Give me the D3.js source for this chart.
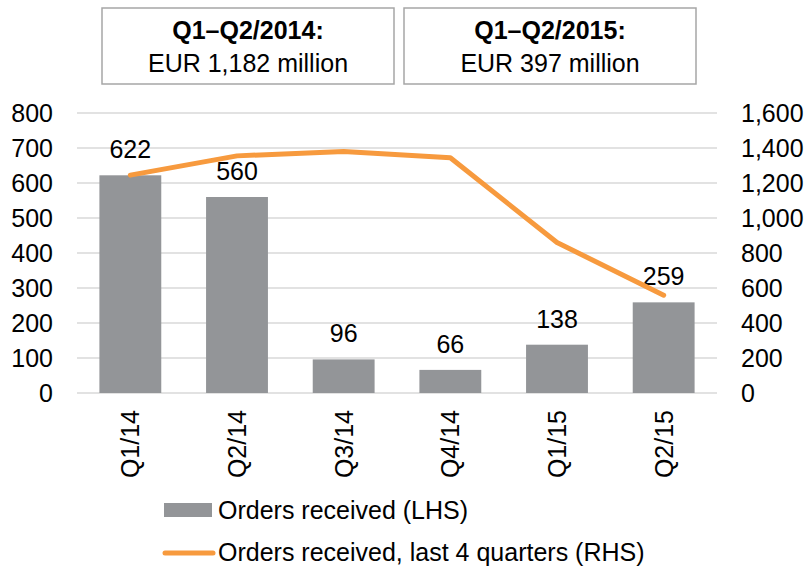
<!DOCTYPE html>
<html>
<head>
<meta charset="utf-8">
<script src="https://cdn.jsdelivr.net/npm/d3@7"></script>
<style>
  body { margin: 0; background: #fff; }
  text { font-family: Arial, "Liberation Sans", sans-serif; fill: #000; }
</style>
</head>
<body>
<div id="chart"></div>
<script>
// data
const quarters = ['Q1/14', 'Q2/14', 'Q3/14', 'Q4/14', 'Q1/15', 'Q2/15'];
const orders = [622, 560, 96, 66, 138, 259];
const last4Quarters = [1245, 1355, 1380, 1344, 860, 559];
const leftTicks = [0, 100, 200, 300, 400, 500, 600, 700, 800];
const rightTicks = [0, 200, 400, 600, 800, 1000, 1200, 1400, 1600];
const summaryTitles = ['Q1\u2013Q2/2014:', 'Q1\u2013Q2/2015:'];
const summaryValues = ['EUR 1,182 million', 'EUR 397 million'];
const legendLabels = ['Orders received (LHS)', 'Orders received, last 4 quarters (RHS)'];

const width = 809, height = 569;
const plot = { left: 77, right: 717, top: 113, bottom: 393 };
const barColor = '#939598', lineColor = '#f79a3e';

const svg = d3.select('#chart').append('svg')
    .attr('width', width)
    .attr('height', height);

const x = d3.scaleBand().domain(quarters).range([plot.left, plot.right]).paddingInner(0.42).paddingOuter(0.21);
const yL = d3.scaleLinear().domain([0, 800]).range([plot.bottom, plot.top]);
const yR = d3.scaleLinear().domain([0, 1600]).range([plot.bottom, plot.top]);

// summary boxes
const boxes = svg.append('g').selectAll('g').data(summaryTitles).join('g')
    .attr('transform', (d, i) => `translate(${i === 0 ? 102 : 404},8)`);
boxes.append('rect')
    .attr('width', 292).attr('height', 76)
    .attr('fill', '#fff').attr('stroke', '#a6a6a6').attr('stroke-width', 1.5);
boxes.append('text')
    .attr('x', 146).attr('y', 31)
    .attr('text-anchor', 'middle').attr('font-size', 25).attr('font-weight', 'bold')
    .text(d => d);
boxes.append('text')
    .attr('x', 146).attr('y', 64)
    .attr('text-anchor', 'middle').attr('font-size', 25)
    .text((d, i) => summaryValues[i]);

// gridlines
svg.append('g').selectAll('line').data(leftTicks).join('line')
    .attr('x1', plot.left).attr('x2', plot.right)
    .attr('y1', d => yL(d)).attr('y2', d => yL(d))
    .attr('stroke', '#d9d9d9').attr('stroke-width', 1.5);

// left axis
const leftAxis = svg.append('g')
    .attr('transform', `translate(${plot.left},0)`)
    .call(d3.axisLeft(yL).tickValues(leftTicks).tickSize(0).tickPadding(24).tickFormat(d3.format(',')));
leftAxis.select('.domain').remove();
leftAxis.selectAll('text').attr('font-size', 25).attr('font-family', null).attr('fill', '#000');

// right axis
const rightAxis = svg.append('g')
    .attr('transform', `translate(${plot.right},0)`)
    .call(d3.axisRight(yR).tickValues(rightTicks).tickSize(0).tickPadding(24).tickFormat(d3.format(',')));
rightAxis.select('.domain').remove();
rightAxis.selectAll('text').attr('font-size', 25).attr('font-family', null).attr('fill', '#000');

// bars
svg.append('g').selectAll('rect').data(orders).join('rect')
    .attr('x', (d, i) => x(quarters[i]))
    .attr('y', d => yL(d))
    .attr('width', x.bandwidth())
    .attr('height', d => yL(0) - yL(d))
    .attr('fill', barColor);

// bar labels
svg.append('g').selectAll('text').data(orders).join('text')
    .attr('x', (d, i) => x(quarters[i]) + x.bandwidth() / 2)
    .attr('y', d => yL(d) - 17)
    .attr('text-anchor', 'middle').attr('font-size', 25)
    .text(d => d);

// line
const line = d3.line()
    .x((d, i) => x(quarters[i]) + x.bandwidth() / 2)
    .y(d => yR(d));
svg.append('path')
    .datum(last4Quarters)
    .attr('d', line)
    .attr('fill', 'none')
    .attr('stroke', lineColor)
    .attr('stroke-width', 5)
    .attr('stroke-linecap', 'round')
    .attr('stroke-linejoin', 'round');

// x labels rotated
svg.append('g').selectAll('text').data(quarters).join('text')
    .attr('transform', d => `translate(${x(d) + x.bandwidth() / 2 + 9},410) rotate(-90)`)
    .attr('text-anchor', 'end').attr('font-size', 25)
    .text(d => d);

// legend
const legend = svg.append('g');
legend.append('rect')
    .attr('x', 164).attr('y', 503).attr('width', 48).attr('height', 14)
    .attr('fill', barColor);
legend.append('line')
    .attr('x1', 165).attr('x2', 213).attr('y1', 553).attr('y2', 553)
    .attr('stroke', lineColor).attr('stroke-width', 5).attr('stroke-linecap', 'round');
legend.selectAll('text').data(legendLabels).join('text')
    .attr('x', 218).attr('y', (d, i) => 519 + i * 42)
    .attr('font-size', 25)
    .text(d => d);
</script>
</body>
</html>
